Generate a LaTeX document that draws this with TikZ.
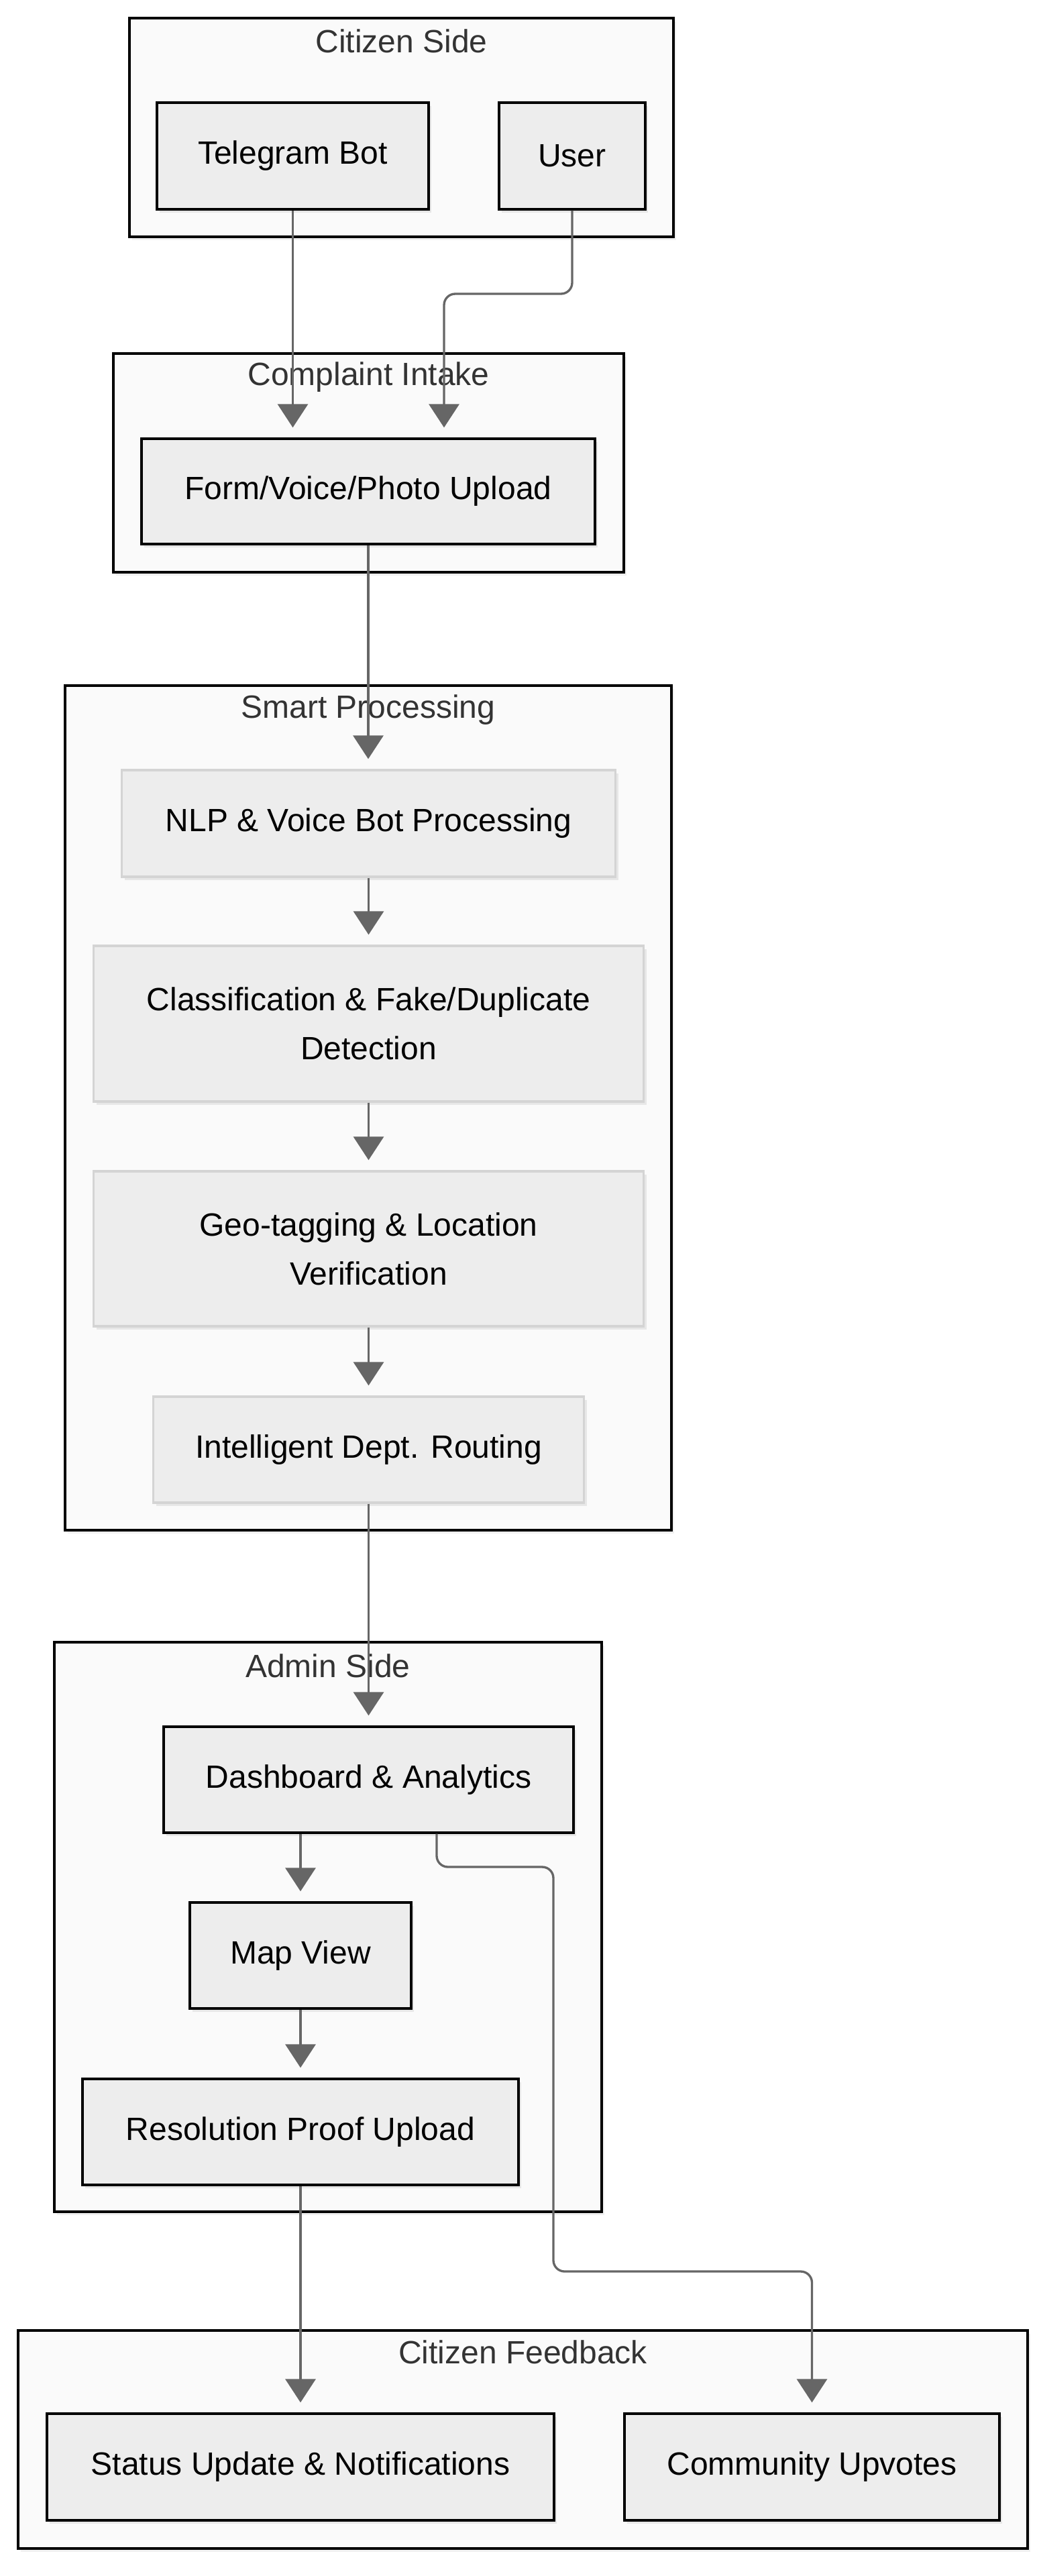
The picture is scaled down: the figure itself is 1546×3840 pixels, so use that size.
\documentclass[tikz,border=0pt]{standalone}
\usepackage{fontspec}
\setmainfont{Liberation Sans}
\usetikzlibrary{arrows.meta,shadows}

\begin{document}
\begin{tikzpicture}[x=0.3pt, y=-0.3pt,
	sz/.style 2 args={minimum width=#1*0.3pt, minimum height=#2*0.3pt},
	cluster/.style={draw=black, line width=1pt, fill=black!2, inner sep=0pt,
		drop shadow={shadow xshift=1.2pt, shadow yshift=-1.5pt, opacity=0.12}},
	ctitle/.style={text=black!80, font=\fontsize{14.4}{21.9}\selectfont, inner sep=0pt},
	plain/.style={draw=black, line width=1pt, fill=black!7, inner sep=0pt, align=center,
		font=\fontsize{14.4}{21.9}\selectfont,
		drop shadow={shadow xshift=1.2pt, shadow yshift=-1.5pt, opacity=0.15}},
	soft/.style={plain, draw=black!17},
	flow/.style={draw=black!60, line width=1pt, rounded corners=5pt, shorten >=4.5pt,
		-{Triangle[length=10.5pt, width=13.5pt]}}]
	\useasboundingbox (0,0) rectangle (1546,3840);

	% groups
	\node [cluster, sz={811}{326}] (cit) at (598.5,190) {};
	\node [cluster, sz={761}{326}] (intake) at (549.5,690) {};
	\node [cluster, sz={904}{1259}] (smart) at (549,1651.5) {};
	\node [cluster, sz={816}{849}] (admin) at (489,2872.5) {};
	\node [cluster, sz={1505}{325}] (fb) at (779.5,3636.5) {};
	\node [ctitle] (citt) at ([yshift=-10.8pt]cit.north) {Citizen Side};
	\node [ctitle] (intaket) at ([yshift=-11.1pt]intake.north) {Complaint Intake};
	\node [ctitle] (smartt) at ([yshift=-11.4pt]smart.north) {Smart Processing};
	\node [ctitle] (admint) at ([yshift=-11.1pt]admin.north) {Admin Side};
	\node [ctitle] (fbt) at ([yshift=-10.2pt]fb.north) {Citizen Feedback};

	% nodes
	\node [plain, sz={405}{159}] (tg) at (436.5,232.5) {Telegram Bot};
	\node [plain, sz={218}{159}] (user) at (853,232.5) {User};
	\node [plain, sz={676}{157}] (form) at (549,732.5) {Form/Voice/Photo Upload};
	\node [soft, sz={736}{159}] (nlp) at (549.5,1227.5) {NLP \& Voice Bot Processing};
	\node [soft, sz={820}{232}] (cls) at (549.5,1526) {Classification \& Fake/Duplicate\\Detection};
	\node [soft, sz={820}{231}] (geo) at (549.5,1861.5) {Geo-tagging \& Location\\Verification};
	\node [soft, sz={642}{158}] (rout) at (549.5,2161) {Intelligent Dept. Routing};
	\node [plain, sz={611}{158}] (dash) at (549.5,2653) {Dashboard \& Analytics};
	\node [plain, sz={330}{158}] (map) at (448,2915) {Map View};
	\node [plain, sz={650}{158}] (res) at (448,3178) {Resolution Proof Upload};
	\node [plain, sz={756}{159}] (stat) at (448,3677.5) {Status Update \& Notifications};
	\node [plain, sz={559}{159}] (comm) at (1210.5,3677.5) {Community Upvotes};

	% links
	\coordinate (uk) at (662,438);
	\coordinate (dk1) at (651,2783);
	\coordinate (dk2) at (825,3386);
	\draw [flow] (tg.south) -- (tg.south |- form.north);
	\draw [flow] (user.south) |- (uk) -- (uk |- form.north);
	\draw [flow] (form.south) -- (form.south |- nlp.north);
	\draw [flow] (nlp.south) -- (nlp.south |- cls.north);
	\draw [flow] (cls.south) -- (cls.south |- geo.north);
	\draw [flow] (geo.south) -- (geo.south |- rout.north);
	\draw [flow] (rout.south) -- (rout.south |- dash.north);
	\draw [flow] (map.north |- dash.south) -- (map.north);
	\draw [flow] (map.south) -- (res.north);
	\draw [flow] (res.south) -- (stat.north);
	\draw [flow] (dk1 |- dash.south) -- (dk1) -| (dk2) -| (comm.north);
\end{tikzpicture}
\end{document}
